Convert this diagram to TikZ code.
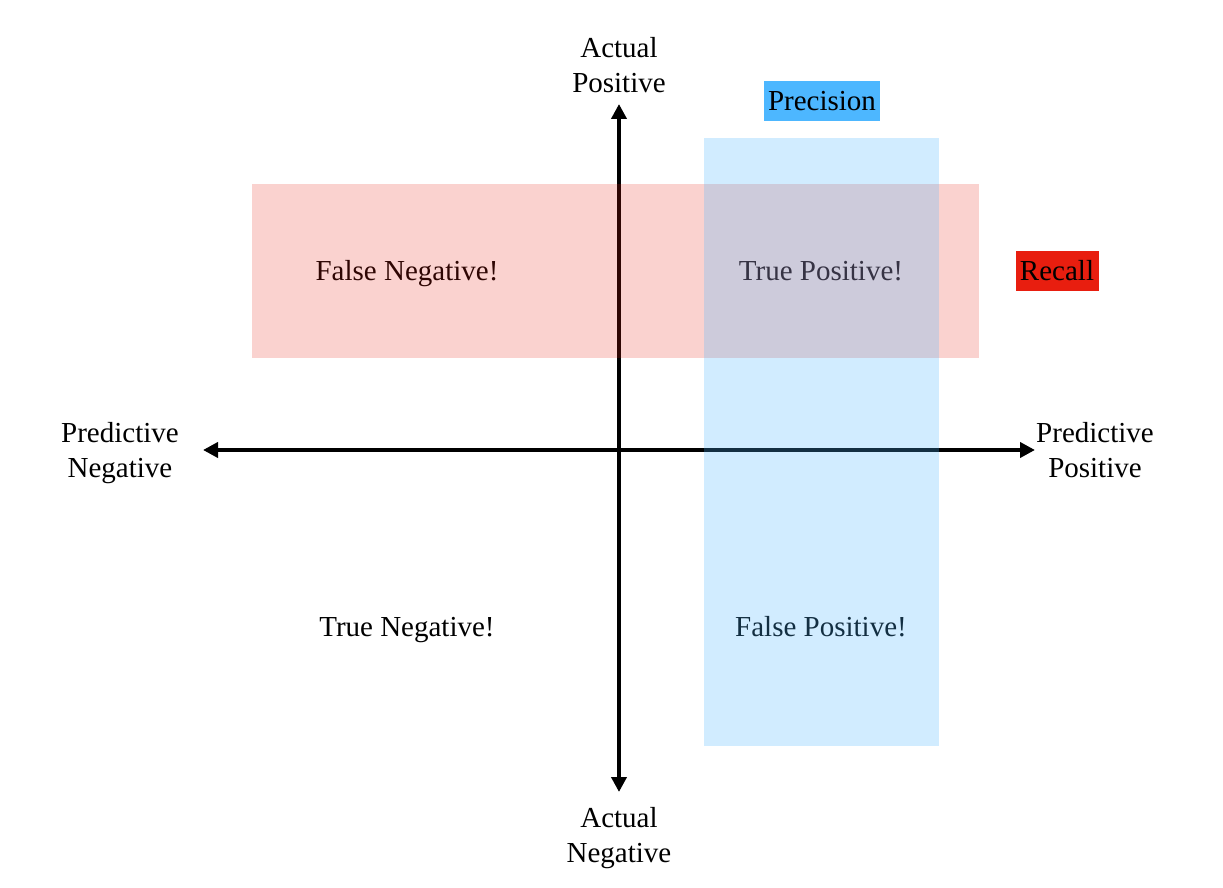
\documentclass[tikz,border=0pt]{standalone}
\usepackage{fontspec}
\setmainfont{Liberation Serif}
\usetikzlibrary{arrows.meta}
\definecolor{recallred}{RGB}{232,30,15}
\definecolor{precblue}{RGB}{77,183,255}

\begin{document}
\begin{tikzpicture}[x=0.5pt,y=-0.5pt,
    lbl/.style={font=\fontsize{14.5}{17.5}\selectfont,align=center,inner sep=0pt},
    axis/.style={line width=2pt,{Triangle[length=7.5pt,width=7.5pt]}-{Triangle[length=7.5pt,width=7.5pt]}},
    tag/.style={lbl,minimum height=20pt}]
    \useasboundingbox (0,0) rectangle (1223,888);

    % Achsen
    \coordinate (atop) at (619,104);
    \coordinate (abot) at (619,792);
    \coordinate (pleft) at (203,450);
    \coordinate (pright) at (1035,450);
    \draw[axis] (abot) -- (atop);
    \draw[axis] (pleft) -- (pright);

    % Achsenbeschriftungen
    \node[lbl] (actpos) at (619,65) {Actual\\Positive};
    \node[lbl] (actneg) at (619,838) {Actual\\Negative};
    \node[lbl] (predneg) at (120,453) {Predictive\\Negative};
    \node[lbl] (predpos) at (1095,450) {Predictive\\Positive};

    % Quadranten
    \node[lbl] (fn) at (407,274) {False Negative!};
    \node[lbl] (tp) at (821,271) {True Positive!};
    \node[lbl] (tn) at (407,630) {True Negative!};
    \node[lbl] (fp) at (821,627) {False Positive!};

    % Bereiche
    \fill[recallred,fill opacity=0.2] (252,184) rectangle (979,358);
    \fill[precblue,fill opacity=0.26] (704,138) rectangle (939,746);

    % Precision / Recall
    \node[tag,fill=precblue,minimum width=58pt] (precision) at (822,101) {Precision};
    \node[tag,fill=recallred,minimum width=41.5pt] (recall) at (1057,271) {Recall};
\end{tikzpicture}
\end{document}
